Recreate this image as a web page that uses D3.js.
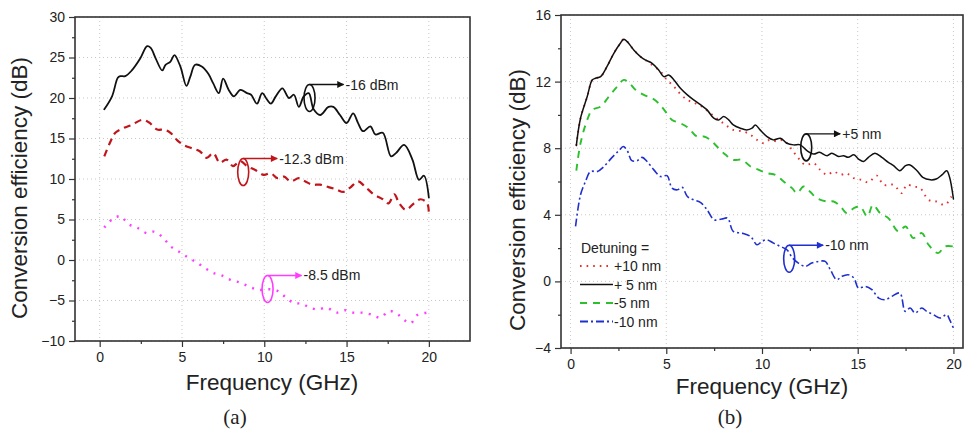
<!DOCTYPE html>
<html>
<head>
<meta charset="utf-8">
<script src="https://cdn.jsdelivr.net/npm/d3@7"></script>
<style>
  body { margin: 0; background: #fff; }
  svg text { font-family: Arial, "Liberation Sans", sans-serif; fill: #222; }
  .tick text { font-size: 14px; }
  .caption { font-family: "Liberation Serif", "DejaVu Serif", serif !important; font-size: 21px; }
</style>
</head>
<body>
<div id="chart"></div>
<script>
// ---- panel (a): pump power, [GHz, dB]
var pump16 = [[0.28,18.6],[0.75,20.2],[1.1,22.5],[1.25,22.7],[1.55,22.7],[1.95,23.4],[2.47,24.9],[2.88,26.4],[3.1,26.2],[3.4,24.9],[3.8,23.4],[4.0,24.1],[4.3,24.5],[4.54,25.3],[4.9,23.9],[5.27,21.5],[5.5,22.6],[5.8,24.1],[6.2,23.9],[6.6,23.0],[6.9,21.8],[7.24,20.6],[7.5,22.4],[7.84,21.0],[8.15,20.2],[8.55,21.0],[8.95,20.6],[9.2,20.4],[9.56,19.3],[9.87,20.6],[10.17,19.8],[10.4,19.3],[10.7,20.2],[11.1,21.2],[11.5,20.0],[11.8,20.4],[12.1,18.9],[12.4,20.2],[12.7,20.6],[13.0,18.6],[13.4,17.9],[13.9,18.9],[14.2,18.9],[14.6,17.9],[15.0,16.9],[15.4,18.1],[15.7,16.9],[16.0,15.9],[16.45,16.5],[16.75,15.5],[17.2,15.7],[17.7,12.8],[18.0,13.2],[18.5,14.2],[19.0,12.4],[19.4,9.9],[19.7,10.4],[20.0,7.7]];
var pump12 = [[0.28,12.8],[0.65,14.6],[0.95,15.7],[1.46,16.3],[1.97,16.7],[2.57,17.3],[2.98,17.0],[3.5,16.1],[3.9,16.1],[4.3,15.7],[4.7,14.8],[5.1,14.2],[5.6,13.8],[6.1,13.4],[6.5,12.6],[6.9,13.2],[7.3,12.0],[7.7,12.4],[8.1,11.6],[8.55,12.2],[8.95,11.6],[9.46,11.1],[9.97,10.5],[10.4,10.7],[10.8,10.1],[11.2,10.3],[11.6,9.7],[12.1,10.1],[12.5,9.7],[12.9,9.3],[13.4,9.3],[13.9,9.0],[14.4,8.7],[14.8,8.4],[15.2,8.9],[15.7,9.7],[16.1,9.1],[16.65,8.1],[17.2,7.5],[17.55,7.0],[17.9,8.1],[18.2,7.0],[18.6,6.2],[19.1,7.0],[19.5,7.5],[19.9,7.0],[20.0,5.6]];
var pump8 = [[0.28,4.0],[0.75,5.0],[1.26,5.4],[1.76,4.4],[2.27,4.0],[2.88,3.3],[3.3,3.5],[3.83,2.8],[4.3,1.7],[4.84,1.0],[5.37,0.3],[5.9,-0.3],[6.4,-1.0],[6.9,-1.6],[7.4,-1.9],[8.0,-2.5],[8.55,-2.8],[9.1,-3.3],[9.67,-3.7],[10.17,-3.6],[10.8,-3.8],[11.3,-4.6],[11.8,-5.3],[12.3,-5.4],[12.7,-5.8],[13.2,-6.1],[13.8,-5.9],[14.4,-6.5],[14.9,-6.2],[15.4,-6.5],[15.9,-6.5],[16.45,-6.7],[17.05,-7.1],[17.6,-6.3],[18.1,-6.7],[18.5,-7.4],[18.9,-7.8],[19.3,-6.8],[19.9,-6.5]];

// ---- panel (b): detuning, [GHz, dB]
var det5 = [[0.3,8.16],[0.52,9.8],[0.87,11.1],[1.13,12.1],[1.3,12.2],[1.57,12.3],[1.9,12.9],[2.26,13.7],[2.6,14.3],[2.78,14.55],[2.96,14.4],[3.3,13.9],[3.65,13.5],[3.9,13.3],[4.26,13.1],[4.6,12.7],[4.87,12.3],[5.13,12.4],[5.4,12.1],[5.74,11.6],[6.1,11.2],[6.43,10.9],[6.8,10.6],[7.13,10.3],[7.48,9.8],[7.74,9.7],[8.0,9.9],[8.26,9.7],[8.5,9.4],[8.87,9.2],[9.2,9.1],[9.48,9.2],[9.65,9.4],[9.9,9.1],[10.26,8.7],[10.6,8.5],[10.96,8.6],[11.3,8.3],[11.65,8.2],[12.0,8.2],[12.35,7.85],[12.7,7.65],[13.0,7.75],[13.4,7.55],[13.65,7.7],[14.0,7.5],[14.26,7.55],[14.5,7.45],[14.8,7.6],[15.04,7.35],[15.3,7.2],[15.56,7.45],[15.9,7.7],[16.26,7.45],[16.6,7.15],[16.87,6.95],[17.2,6.65],[17.5,6.95],[17.7,7.0],[18.1,6.65],[18.4,6.25],[18.8,6.1],[19.1,6.15],[19.4,6.4],[19.65,6.65],[19.8,6.25],[20.0,4.95]];
var det10 = [[0.3,8.16],[0.52,9.8],[0.87,11.1],[1.13,12.1],[1.3,12.2],[1.57,12.3],[1.9,12.9],[2.26,13.7],[2.6,14.3],[2.78,14.55],[2.96,14.4],[3.3,13.9],[3.65,13.5],[3.9,13.3],[4.26,13.0],[4.7,12.6],[5.04,12.1],[5.4,11.7],[5.74,11.25],[6.1,10.9],[6.5,10.7],[6.87,10.5],[7.3,10.1],[7.74,9.7],[8.1,9.4],[8.5,9.1],[9.04,9.0],[9.4,8.8],[9.74,8.5],[10.1,8.3],[10.4,8.5],[10.8,8.4],[11.1,8.5],[11.5,8.0],[11.9,7.4],[12.26,7.0],[12.7,7.1],[13.04,6.7],[13.4,6.4],[13.74,6.6],[14.1,6.4],[14.4,6.5],[14.8,6.2],[15.2,6.1],[15.56,5.95],[16.0,6.35],[16.35,5.8],[16.87,5.8],[17.3,5.3],[17.56,5.8],[17.9,5.7],[18.26,5.6],[18.7,4.9],[19.1,4.8],[19.56,4.6],[19.9,5.1]];
var detM5 = [[0.3,6.65],[0.52,8.3],[0.87,9.7],[1.13,10.3],[1.57,10.5],[2.0,11.1],[2.43,11.7],[2.78,12.1],[3.04,11.95],[3.4,11.5],[3.83,11.2],[4.26,11.0],[4.6,10.7],[4.96,10.2],[5.3,9.7],[5.74,9.5],[6.17,9.2],[6.6,8.7],[6.96,8.7],[7.3,8.5],[7.65,8.1],[8.1,7.6],[8.5,7.3],[8.96,7.3],[9.4,6.9],[9.83,6.7],[10.26,6.5],[10.7,6.4],[11.13,6.0],[11.57,5.6],[11.83,5.3],[12.17,5.7],[12.5,5.4],[12.87,5.0],[13.4,4.8],[13.74,4.8],[14.1,4.5],[14.43,4.1],[14.8,4.4],[15.13,4.5],[15.5,3.9],[15.8,4.6],[16.17,4.1],[16.6,3.8],[17.13,3.0],[17.5,3.3],[17.9,2.6],[18.35,2.9],[18.7,2.2],[19.2,1.7],[19.56,2.1],[20.0,2.1]];
var detM10 = [[0.26,3.3],[0.52,5.2],[0.78,6.0],[1.04,6.6],[1.4,6.6],[1.74,6.9],[2.17,7.45],[2.52,7.85],[2.75,8.1],[2.96,7.85],[3.2,7.25],[3.48,7.25],[3.74,7.45],[4.0,7.2],[4.35,6.7],[4.7,6.3],[5.04,6.35],[5.3,5.6],[5.57,5.5],[5.83,5.65],[6.1,5.1],[6.43,4.9],[6.78,4.75],[7.13,4.3],[7.5,3.7],[7.9,3.75],[8.2,3.8],[8.5,3.0],[8.96,2.9],[9.4,2.7],[9.74,2.2],[10.0,2.4],[10.26,2.5],[10.6,2.3],[10.96,2.1],[11.3,1.9],[11.6,1.4],[11.9,1.1],[12.26,0.9],[12.6,1.1],[12.96,1.2],[13.3,1.2],[13.57,0.7],[13.9,0.1],[14.17,0.3],[14.5,0.4],[14.8,0.2],[15.04,-0.4],[15.4,-0.3],[15.74,-0.5],[16.1,-1.0],[16.43,-1.1],[16.78,-0.9],[17.2,-0.7],[17.48,-1.8],[17.74,-1.6],[18.0,-1.9],[18.35,-1.6],[18.6,-1.8],[18.96,-2.0],[19.3,-2.2],[19.65,-2.0],[19.8,-2.3],[20.0,-2.8]];

var xTicks = [0, 5, 10, 15, 20];
var xMinor = [2.5, 7.5, 12.5, 17.5];
var yTicksA = [-10, -5, 0, 5, 10, 15, 20, 25, 30];
var yMinorA = [-7.5, -2.5, 2.5, 7.5, 12.5, 17.5, 22.5, 27.5];
var yTicksB = [-4, 0, 4, 8, 12, 16];
var yMinorB = [-2, 2, 6, 10, 14];

var legendNames = ["+10 nm", "+ 5 nm", "-5 nm", "-10 nm"];

// annotation anchors: [GHz, dB, label]
var notesA = [[12.75, 20.0, "-16 dBm"], [8.72, 10.86, "-12.3 dBm"], [10.2, -3.58, "-8.5 dBm"]];
var notesB = [[12.31, 8.05, "+5 nm"], [11.42, 1.36, "-10 nm"]];

var width = 965, height = 432;

var svg = d3.select("#chart").append("svg")
    .attr("width", width)
    .attr("height", height);

var defs = svg.append("defs");
function arrowMarker(id, color) {
    defs.append("marker")
        .attr("id", id)
        .attr("viewBox", "0 0 10 10")
        .attr("refX", 9).attr("refY", 5)
        .attr("markerWidth", 9).attr("markerHeight", 7)
        .attr("markerUnits", "userSpaceOnUse")
        .attr("orient", "auto")
        .append("path")
        .attr("d", "M0,0L10,5L0,10Z")
        .attr("fill", color);
}

// draw one frame + axes, returns scales
function panel(opt) {
    var x = d3.scaleLinear().domain(opt.xDomain).range([opt.left, opt.right]);
    var y = d3.scaleLinear().domain(opt.yDomain).range([opt.bottom, opt.top]);
    var g = svg.append("g");

    // grid
    g.append("g").selectAll("line").data(xTicks).enter().append("line")
        .attr("x1", d => x(d)).attr("x2", d => x(d))
        .attr("y1", opt.top).attr("y2", opt.bottom)
        .attr("stroke", "#c8c8c8").attr("stroke-dasharray", "1,3");
    g.append("g").selectAll("line").data(opt.yTicks).enter().append("line")
        .attr("x1", opt.left).attr("x2", opt.right)
        .attr("y1", d => y(d)).attr("y2", d => y(d))
        .attr("stroke", "#c8c8c8").attr("stroke-dasharray", "1,3");

    g.append("g")
        .attr("transform", "translate(0," + opt.bottom + ")")
        .call(d3.axisBottom(x).tickValues(xTicks).tickSize(6).tickPadding(5));
    g.append("g")
        .attr("transform", "translate(0," + opt.bottom + ")")
        .call(d3.axisBottom(x).tickValues(xMinor).tickSize(3).tickFormat(""));
    g.append("g")
        .attr("transform", "translate(" + opt.left + ",0)")
        .call(d3.axisLeft(y).tickValues(opt.yTicks).tickSize(6).tickPadding(4));
    g.append("g")
        .attr("transform", "translate(" + opt.left + ",0)")
        .call(d3.axisLeft(y).tickValues(opt.yMinor).tickSize(3).tickFormat(""));
    g.selectAll(".domain").remove();
    g.selectAll(".tick line").attr("stroke", "#333").attr("stroke-width", 1.2);
    g.selectAll(".tick text").attr("fill", "#222");

    g.append("rect")
        .attr("x", opt.left).attr("y", opt.top)
        .attr("width", opt.right - opt.left).attr("height", opt.bottom - opt.top)
        .attr("fill", "none").attr("stroke", "#333").attr("stroke-width", 1.6);

    svg.append("text")
        .attr("transform", "translate(" + opt.yLabelX + "," + opt.yLabelY + ") rotate(-90)")
        .attr("text-anchor", "middle")
        .style("font-size", "22.5px")
        .text("Conversion efficiency (dB)");
    svg.append("text")
        .attr("x", opt.xLabelX).attr("y", opt.xLabelY)
        .attr("text-anchor", "middle")
        .style("font-size", "22.5px")
        .text("Frequency (GHz)");
    svg.append("text")
        .attr("class", "caption")
        .attr("x", opt.capX).attr("y", 424)
        .attr("text-anchor", "middle")
        .text(opt.caption);

    return {x: x, y: y};
}

function curve(s, data, color, w, dash) {
    var line = d3.line()
        .x(d => s.x(d[0]))
        .y(d => s.y(d[1]))
        .curve(d3.curveCatmullRom);
    svg.append("path")
        .datum(data)
        .attr("d", line)
        .attr("fill", "none")
        .attr("stroke", color)
        .attr("stroke-width", w)
        .attr("stroke-dasharray", dash)
        .attr("stroke-linecap", dash ? "butt" : "round");
}

function note(s, n, color, id) {
    var cx = s.x(n[0]), cy = s.y(n[1]);
    svg.append("ellipse")
        .attr("cx", cx).attr("cy", cy)
        .attr("rx", 5.5).attr("ry", 13.5)
        .attr("fill", "none").attr("stroke", color).attr("stroke-width", 1.6);
    svg.append("line")
        .attr("x1", cx).attr("y1", cy - 13.5)
        .attr("x2", cx + 34).attr("y2", cy - 13.5)
        .attr("stroke", color).attr("stroke-width", 1.4)
        .attr("marker-end", "url(#" + id + ")");
    svg.append("text")
        .attr("x", cx + 36).attr("y", cy - 8.5)
        .style("font-size", "14px")
        .text(n[2]);
}

// ---- (a)
var colA = ["#111111", "#c0151b", "#ff3cff"];
colA.forEach(function(c, i) { arrowMarker("arrA" + i, c); });
var sA = panel({
    xDomain: [-1.5, 22.5], yDomain: [-10, 30],
    left: 75, right: 470, top: 17, bottom: 341,
    yTicks: yTicksA, yMinor: yMinorA,
    yLabelX: 27, yLabelY: 188,
    xLabelX: 272, xLabelY: 390,
    capX: 235, caption: "(a)"
});
curve(sA, pump8, colA[2], 2.4, "2,6.3");
curve(sA, pump12, colA[1], 2.2, "7,5");
curve(sA, pump16, colA[0], 1.8, null);
notesA.forEach(function(n, i) { note(sA, n, colA[i], "arrA" + i); });

// ---- (b)
var colB = ["#e5302c", "#111111", "#2cc02c", "#1f2fd0"];
var dashB = ["1.6,5", null, "7,6", "8,3,2,3"];
colB.forEach(function(c, i) { arrowMarker("arrB" + i, c); });
var sB = panel({
    xDomain: [-0.5, 20.5], yDomain: [-4, 16],
    left: 561, right: 963, top: 15, bottom: 348,
    yTicks: yTicksB, yMinor: yMinorB,
    yLabelX: 525, yLabelY: 200,
    xLabelX: 762, xLabelY: 394,
    capX: 730, caption: "(b)"
});
curve(sB, detM10, colB[3], 1.6, dashB[3]);
curve(sB, detM5, colB[2], 1.9, dashB[2]);
curve(sB, det10, colB[0], 1.9, dashB[0]);
curve(sB, det5, colB[1], 1.5, dashB[1]);
note(sB, notesB[0], colB[1], "arrB1");
note(sB, notesB[1], colB[3], "arrB3");

// legend
var leg = svg.append("g").attr("transform", "translate(580,253)");
leg.append("text").attr("x", 1).attr("y", 0).style("font-size", "14px").text("Detuning =");
legendNames.forEach(function(name, i) {
    var yy = 13 + i * 18.5;
    leg.append("line")
        .attr("x1", 0).attr("x2", 33).attr("y1", yy).attr("y2", yy)
        .attr("stroke", colB[i]).attr("stroke-width", i == 1 ? 1.5 : 1.9)
        .attr("stroke-dasharray", dashB[i]);
    leg.append("text").attr("x", 34).attr("y", yy + 5).style("font-size", "14px").text(name);
});
</script>
</body>
</html>
